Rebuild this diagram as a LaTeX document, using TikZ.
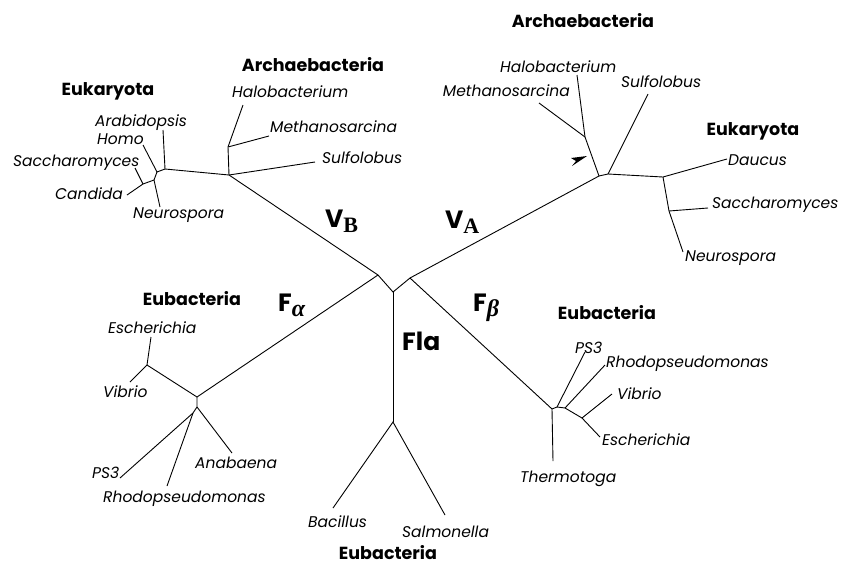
\documentclass[tikz,border=0pt]{standalone}
\usepackage{fontspec}
\newfontfamily\treefont{Poppins}
\newfontfamily\subfont{Liberation Serif}

\begin{document}
\begin{tikzpicture}[
    x=1pt, y=-1pt,
    br/.style={line width=0.9pt, black},
    leaf/.style={font=\treefont\itshape\fontsize{15.5}{15.5}\selectfont, inner sep=0pt},
    grp/.style={font=\treefont\bfseries\fontsize{17.5}{17.5}\selectfont, inner sep=0pt, anchor=base},
    brlbl/.style={font=\treefont\bfseries\fontsize{25}{25}\selectfont, inner sep=0pt, anchor=base west},
]
\useasboundingbox (0,0) rectangle (841,566);

% centre
\coordinate (c0) at (393,292);
\coordinate (cB) at (378,275);
\coordinate (cA) at (410,278);
\coordinate (fla) at (393,422);
\draw[br] (cB) -- (c0) -- (cA);
\draw[br] (c0) -- (fla);

% V_B : archaebacteria and eukaryota
\coordinate (vb) at (229,175);
\coordinate (arch1) at (228,147);
\coordinate (halL) at (243,105);
\coordinate (metL) at (269,136);
\coordinate (sulL) at (315,162);
\coordinate (euL) at (165,169);
\coordinate (arab) at (163,130);
\coordinate (eu2) at (157,172);
\coordinate (homo) at (143,145);
\coordinate (eu3) at (154,180);
\coordinate (neuL) at (160,207);
\coordinate (eu4) at (143,184);
\coordinate (sacL) at (135,168);
\coordinate (canL) at (127,195);
\draw[br] (cB) -- (vb) -- (euL);
\draw[br] (vb) -- (arch1) -- (halL);
\draw[br] (arch1) -- (metL);
\draw[br] (vb) -- (sulL);
\draw[br] (euL) -- (arab);
\draw[br] (euL) -- (eu2) -- (homo);
\draw[br] (eu2) -- (eu3) -- (neuL);
\draw[br] (eu3) -- (eu4) -- (sacL);
\draw[br] (eu4) -- (canL);

% V_A : archaebacteria and eukaryota
\coordinate (va) at (599,176);
\coordinate (arch2) at (585,137);
\coordinate (halR) at (577,75);
\coordinate (metR) at (539,103);
\coordinate (va2) at (608,174);
\coordinate (sulR) at (648,94);
\coordinate (euR) at (663,177);
\coordinate (dau) at (727,159);
\coordinate (euR2) at (669,211);
\coordinate (sacR) at (708,208);
\coordinate (neuR) at (683,252);
\draw[br] (cA) -- (va) -- (va2) -- (euR);
\draw[br] (va) -- (arch2) -- (halR);
\draw[br] (arch2) -- (metR);
\draw[br] (va2) -- (sulR);
\draw[br] (euR) -- (dau);
\draw[br] (euR) -- (euR2) -- (neuR);
\draw[br] (euR2) -- (sacR);
\coordinate (arrtip) at (587,156);
\fill (arrtip) -- (571,158) -- (576,161) -- (572,166) -- cycle;

% F_beta
\coordinate (fb) at (552,409);
\coordinate (therm) at (553,461);
\coordinate (fb2) at (557,407);
\coordinate (ps3R) at (585,352);
\coordinate (fb3) at (565,408);
\coordinate (rhoR) at (605,365);
\coordinate (fb4) at (582,418);
\coordinate (vibR) at (612,394);
\coordinate (escR) at (600,437);
\draw[br] (cA) -- (fb) -- (therm);
\draw[br] (fb) -- (fb2) -- (ps3R);
\draw[br] (fb2) -- (fb3) -- (rhoR);
\draw[br] (fb3) -- (fb4) -- (vibR);
\draw[br] (fb4) -- (escR);

% F_alpha
\coordinate (fa) at (197,397);
\coordinate (fa2) at (147,365);
\coordinate (escL) at (151,337);
\coordinate (vibL) at (130,382);
\coordinate (fa3) at (197,407);
\coordinate (anab) at (232,453);
\coordinate (fa4) at (193,413);
\coordinate (ps3L) at (120,478);
\coordinate (rhoL) at (167,486);
\draw[br] (cB) -- (fa) -- (fa2) -- (escL);
\draw[br] (fa2) -- (vibL);
\draw[br] (fa) -- (fa3) -- (anab);
\draw[br] (fa3) -- (fa4) -- (ps3L);
\draw[br] (fa4) -- (rhoL);

% Fla
\coordinate (bac) at (333,508);
\coordinate (sal) at (445,515);
\draw[br] (bac) -- (fla) -- (sal);

% group names
\node[grp] (eukL) at (108,95) {Eukaryota};
\node[grp] (archL) at (313,71) {Archaebacteria};
\node[grp] (archR) at (583,27) {Archaebacteria};
\node[grp] (eukR) at (753,135) {Eukaryota};
\node[grp] (eubL) at (192,305) {Eubacteria};
\node[grp] (eubR) at (607,319) {Eubacteria};
\node[grp] (eubB) at (388,559) {Eubacteria};

% branch names
\node[brlbl] (lVB) at (325,227) {V\raisebox{-5pt}{\subfont\fontsize{22}{22}\selectfont B}};
\node[brlbl] (lVA) at (445,228) {V\raisebox{-5pt}{\subfont\fontsize{22}{22}\selectfont A}};
\node[brlbl] (lFa) at (278,311) {F\raisebox{-5pt}{\subfont\itshape\fontsize{24}{24}\selectfont α}};
\node[brlbl] (lFb) at (473,311) {F\raisebox{-5pt}{\subfont\itshape\fontsize{24}{24}\selectfont β}};
\node[brlbl] (lFla) at (402,350) {Fla};

% leaves
\node[leaf, anchor=base west] (tArab) at (95,126) {Arabidopsis};
\node[leaf, anchor=base west] (tHomo) at (97,144) {Homo};
\node[leaf, anchor=base west] (tSacL) at (13,166) {Saccharomyces};
\node[leaf, anchor=base west] (tCan) at (55,199) {Candida};
\node[leaf, anchor=base west] (tNeuL) at (133,218) {Neurospora};
\node[leaf, anchor=base west] (tHalL) at (232,97) {Halobacterium};
\node[leaf, anchor=base west] (tMetL) at (270,132) {Methanosarcina};
\node[leaf, anchor=base west] (tSulL) at (322,163) {Sulfolobus};
\node[leaf, anchor=base west] (tHalR) at (500,72) {Halobacterium};
\node[leaf, anchor=base east] (tMetR) at (570,96) {Methanosarcina};
\node[leaf, anchor=base west] (tSulR) at (621,87) {Sulfolobus};
\node[leaf, anchor=base west] (tDau) at (728,165) {Daucus};
\node[leaf, anchor=base west] (tSacR) at (712,208) {Saccharomyces};
\node[leaf, anchor=base west] (tNeuR) at (685,261) {Neurospora};
\node[leaf, anchor=base west] (tPsR) at (575,353) {PS3};
\node[leaf, anchor=base west] (tRhoR) at (606,367) {Rhodopseudomonas};
\node[leaf, anchor=base west] (tVibR) at (617,399) {Vibrio};
\node[leaf, anchor=base west] (tEscR) at (602,445) {Escherichia};
\node[leaf, anchor=base west] (tTher) at (520,482) {Thermotoga};
\node[leaf, anchor=base west] (tEscL) at (108,333) {Escherichia};
\node[leaf, anchor=base west] (tVibL) at (103,397) {Vibrio};
\node[leaf, anchor=base west] (tPsL) at (92,478) {PS3};
\node[leaf, anchor=base west] (tRhoL) at (103,502) {Rhodopseudomonas};
\node[leaf, anchor=base west] (tAnab) at (195,468) {Anabaena};
\node[leaf, anchor=base west] (tBac) at (308,527) {Bacillus};
\node[leaf, anchor=base west] (tSal) at (402,537) {Salmonella};
\end{tikzpicture}
\end{document}
